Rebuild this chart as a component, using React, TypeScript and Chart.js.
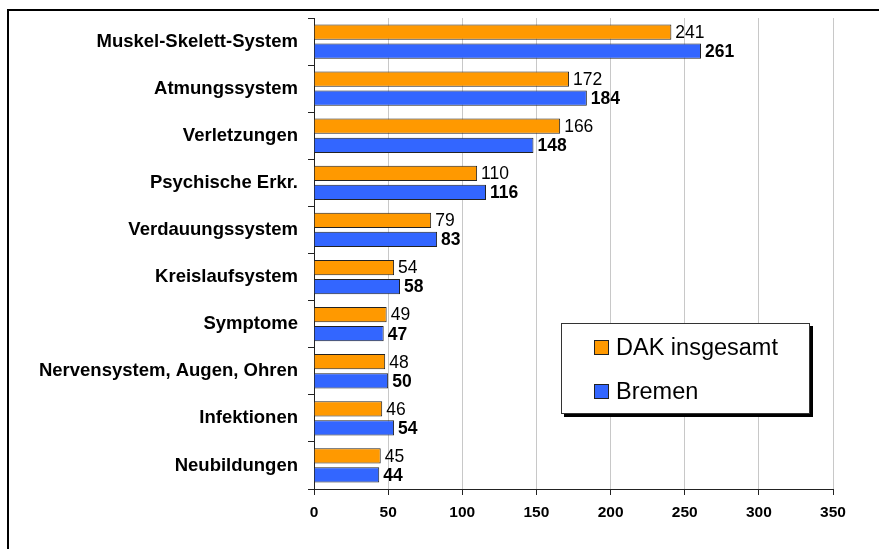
import React, { useEffect, useRef } from "react";
import { Chart, registerables } from "chart.js";

Chart.register(...registerables);

const categories = [
  "Muskel-Skelett-System",
  "Atmungssystem",
  "Verletzungen",
  "Psychische Erkr.",
  "Verdauungssystem",
  "Kreislaufsystem",
  "Symptome",
  "Nervensystem, Augen, Ohren",
  "Infektionen",
  "Neubildungen",
];
const dakValues = [241, 172, 166, 110, 79, 54, 49, 48, 46, 45];
const bremenValues = [261, 184, 148, 116, 83, 58, 47, 50, 54, 44];
const seriesLabels = ["DAK insgesamt", "Bremen"];
const seriesColors = ["#FF9900", "#3366FF"];
const xMin = 0;
const xMax = 350;
const xStep = 50;

const FONT = "'Liberation Sans', Arial, Helvetica, sans-serif";

const frame = {
  id: "frame",
  beforeDraw(chart: any) {
    const ctx = chart.ctx;
    ctx.save();
    ctx.fillStyle = "#000";
    ctx.fillRect(7, 9, 2, chart.height - 9);
    ctx.fillRect(7, 9, chart.width - 7, 2);
    ctx.restore();
  },
};

const valueLabels = {
  id: "valueLabels",
  afterDatasetsDraw(chart: any) {
    const ctx = chart.ctx;
    ctx.save();
    ctx.fillStyle = "#000";
    ctx.textAlign = "left";
    ctx.textBaseline = "middle";
    chart.data.datasets.forEach((ds: any, di: number) => {
      const meta = chart.getDatasetMeta(di);
      ctx.font = (di === 1 ? "bold " : "") + "17.5px " + FONT;
      meta.data.forEach((el: any, i: number) => {
        ctx.fillText(String(ds.data[i]), el.x + 4, el.y + 1);
      });
    });
    ctx.restore();
  },
};

const boxLegend = {
  id: "boxLegend",
  afterDraw(chart: any) {
    const ctx = chart.ctx;
    const x0 = 561, y0 = 323, w = 249, h = 91;
    ctx.save();
    ctx.fillStyle = "#000";
    ctx.fillRect(x0 + 3, y0 + 3, w, h);
    ctx.fillStyle = "#fff";
    ctx.fillRect(x0, y0, w, h);
    ctx.strokeStyle = "#333";
    ctx.lineWidth = 1;
    ctx.strokeRect(x0 + 0.5, y0 + 0.5, w - 1, h - 1);
    ctx.font = "23.5px " + FONT;
    ctx.textBaseline = "middle";
    ctx.textAlign = "left";
    const rows = [347.5, 391.5];
    chart.data.datasets.forEach((ds: any, i: number) => {
      const cy = rows[i];
      ctx.fillStyle = ds.backgroundColor;
      ctx.fillRect(594, cy - 7.5, 15, 15);
      ctx.strokeStyle = "#222";
      ctx.strokeRect(594.5, cy - 7, 14, 14);
      ctx.fillStyle = "#000";
      ctx.fillText(ds.label, 616, cy + 1);
    });
    ctx.restore();
  },
};

export default function App() {
  const ref = useRef<HTMLCanvasElement | null>(null);
  useEffect(() => {
    document.body.style.margin = "0";
    const chart = new Chart(ref.current as HTMLCanvasElement, {
      type: "bar",
      data: {
        labels: categories,
        datasets: [
          {
            label: seriesLabels[0],
            data: dakValues,
            backgroundColor: seriesColors[0],
            borderColor: "#222",
            borderWidth: 1,
            categoryPercentage: 0.81,
            barPercentage: 0.8,
          },
          {
            label: seriesLabels[1],
            data: bremenValues,
            backgroundColor: seriesColors[1],
            borderColor: "#222",
            borderWidth: 1,
            categoryPercentage: 0.81,
            barPercentage: 0.8,
          },
        ],
      },
      options: {
        indexAxis: "y",
        animation: false,
        responsive: true,
        maintainAspectRatio: false,
        layout: { padding: { left: 0, right: 46, top: 18, bottom: 0 } },
        plugins: {
          legend: { display: false },
          tooltip: { enabled: false },
        },
        scales: {
          x: {
            min: xMin,
            max: xMax,
            ticks: {
              stepSize: xStep,
              color: "#000",
              padding: 8,
              font: { family: FONT, size: 15.5, weight: "bold" },
            },
            grid: {
              color: "#c8c8c8",
              tickColor: "#222",
              tickLength: 6,
              drawTicks: true,
            },
            border: { display: true, color: "#222", width: 1 },
            afterFit: (s: any) => {
              s.height = 60;
              s.paddingLeft = 0;
              s.paddingRight = 0;
            },
          },
          y: {
            ticks: {
              color: "#000",
              padding: 10,
              font: { family: FONT, size: 18.5, weight: "bold" },
            },
            grid: {
              drawOnChartArea: false,
              offset: true,
              tickColor: "#222",
              tickLength: 6,
            },
            border: { display: true, color: "#222", width: 1 },
            afterFit: (s: any) => {
              s.width = 314;
              s.paddingTop = 0;
              s.paddingBottom = 0;
            },
          },
        },
      },
      plugins: [frame, valueLabels, boxLegend],
    });
    return () => chart.destroy();
  }, []);
  return (
    <div style={{ position: "fixed", left: 0, top: 0, width: 879, height: 549, background: "#fff" }}>
      <canvas ref={ref} />
    </div>
  );
}
